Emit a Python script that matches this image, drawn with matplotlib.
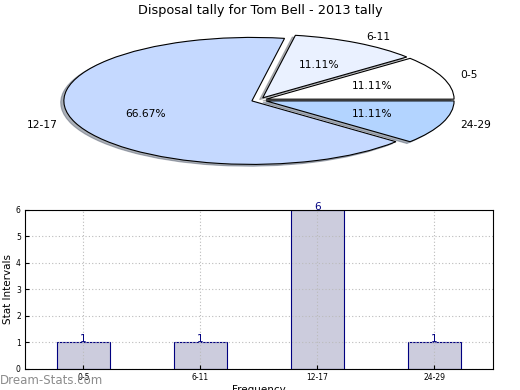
import matplotlib
matplotlib.use("Agg")
import matplotlib.pyplot as plt


# Data

categories = ["0-5", "6-11", "12-17", "24-29"]
counts = [1, 1, 6, 1]
pie_colors = ["#ffffff", "#eaf1ff", "#c5d9ff", "#b3d4ff"]

title = "Disposal tally for Tom Bell - 2013 tally"


# Figure

fig = plt.figure(figsize=(5.2, 3.9), dpi=100)

# Pie (stretched into an ellipse)

ax_pie = fig.add_axes([0.046, 0.540, 0.904, 0.407])
wedges, texts, autotexts = ax_pie.pie(
    counts,
    labels=categories,
    colors=pie_colors,
    explode=[0.04] * len(counts),
    autopct="%.2f%%",
    shadow={"ox": -0.012, "oy": -0.02, "shade": 0.55},
    startangle=0,
    wedgeprops={"edgecolor": "black", "linewidth": 0.8},
    textprops={"fontsize": 7.7},
)
ax_pie.set_aspect("auto")
ax_pie.set_xlim(-1.25, 1.25)
ax_pie.set_ylim(-1.25, 1.25)
fig.text(0.5, 0.972, title, ha="center", va="center", fontsize=9.3)


# Bars

ax_bar = fig.add_axes([0.048, 0.054, 0.900, 0.408])
x = range(len(categories))
bars = ax_bar.bar(x, counts, width=0.45, color="#ccccdd",
                  edgecolor="#000080", linewidth=0.8, zorder=1)
ax_bar.set_xlim(-0.5, len(categories) - 0.5)
ax_bar.set_ylim(0, 6)
ax_bar.set_xticks(list(x))
ax_bar.set_xticklabels(categories)
ax_bar.set_yticks(range(0, 7))
ax_bar.tick_params(labelsize=5.5, direction="in", length=3, pad=3)
ax_bar.set_axisbelow(False)
ax_bar.grid(True, linestyle=(0, (1, 2)), color="#bbbbbb", linewidth=0.8)
for sp in ax_bar.spines.values():
    sp.set_zorder(5)
ax_bar.set_ylabel("Stat Intervals", fontsize=7.5, labelpad=2)
ax_bar.set_xlabel("Frequency", fontsize=7.5, labelpad=2)

for b, v in zip(bars, counts):
    ax_bar.text(b.get_x() + b.get_width() / 2, v - 0.07, str(v), ha="center",
                va="bottom", fontsize=7.5, color="#000080")

fig.text(0.0, 0.025, "Dream-Stats.com", ha="left", va="center",
         fontsize=8.5, color="#8c8c8c")

fig.savefig("out.png", dpi=100)
